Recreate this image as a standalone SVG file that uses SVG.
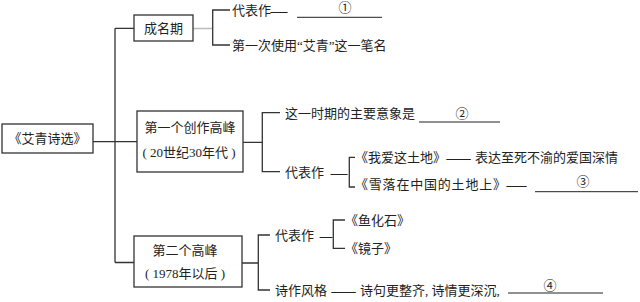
<svg xmlns="http://www.w3.org/2000/svg" width="640" height="302" viewBox="0 0 640 302">
<style>
text{font-family:"Liberation Serif","Noto Sans CJK SC",serif;font-size:13px;fill:#222;dominant-baseline:central}
.c{text-anchor:middle}
.n{font-size:13px;text-anchor:middle}
.d{stroke:#222;stroke-width:0.6}
.box{fill:#fff;stroke:#333;stroke-width:1.3}
.ln{stroke:#333;stroke-width:1.3;fill:none}
.lg{stroke:#bbb;stroke-width:1.5;fill:none}
.ul{stroke:#222;stroke-width:1;fill:none}
</style>
<rect width="640" height="302" fill="#fff"/>
<g id="connectors">
<path class="ln" d="M93 141.7H137M115 28.3V262.5M115 28.3H134M115 262.5H134"/>
<path class="lg" d="M193 28.5H212.7"/>
<path class="ln" d="M230 10H212.7V45H230"/>
<path class="ln" d="M243 142.3H262.3M280 112.7H262.3V171.7H280"/>
<path class="ln" d="M355 157.3H349.3V187H355"/>
<path class="ln" d="M242 263H258.3M270 235H258.3V290H270"/>
<path class="ln" d="M345 220H333.3V248.3H345"/>
</g>
<g id="root"><rect class="box" x="2" y="124" width="91" height="29"/><text class="c" x="47.5" y="138.5">《艾青诗选》</text></g>
<g id="early"><rect class="box" x="134" y="15" width="59" height="26"/><text class="c" x="163.5" y="28">成名期</text></g>
<g id="peak1"><rect class="box" x="137" y="111" width="106" height="61"/><text class="c" x="190" y="127">第一个创作高峰</text><text class="c" x="189" y="152">( 20世纪30年代 )</text></g>
<g id="peak2"><rect class="box" x="134" y="236" width="108" height="51"/><text class="c" x="185" y="250">第二个高峰</text><text class="c" x="185" y="273.5">( 1978年以后 )</text></g>
<g id="early-items">
<text x="232" y="10">代表作</text><text class="d" x="271" y="10" textLength="16" lengthAdjust="spacingAndGlyphs">—</text>
<path class="ul" d="M297 17.3H382"/><text class="n" x="345" y="7">①</text>
<text x="232" y="45">第一次使用“艾青”这一笔名</text>
</g>
<g id="peak1-items">
<text x="285" y="113">这一时期的主要意象是</text>
<path class="ul" d="M419 122H500"/><text class="n" x="462" y="113">②</text>
<text x="285" y="172">代表作</text><text class="d" x="331" y="172" textLength="16" lengthAdjust="spacingAndGlyphs">—</text>
<text x="355" y="157">《我爱这土地》</text><text class="d" x="447" y="157" textLength="23" lengthAdjust="spacingAndGlyphs">—</text><text x="475" y="157">表达至死不渝的爱国深情</text>
<text x="355" y="184.5" letter-spacing="0.8">《雪落在中国的土地上》</text><text class="d" x="507" y="184.5" textLength="19" lengthAdjust="spacingAndGlyphs">—</text>
<path class="ul" d="M535 191.7H638"/><text class="n" x="583" y="181.5">③</text>
</g>
<g id="peak2-items">
<text x="275" y="235">代表作</text><text class="d" x="320" y="235" textLength="12" lengthAdjust="spacingAndGlyphs">—</text>
<text x="345" y="220">《鱼化石》</text>
<text x="345" y="248">《镜子》</text>
<text x="275" y="290">诗作风格</text><text class="d" x="332" y="290" textLength="23" lengthAdjust="spacingAndGlyphs">—</text>
<text x="360" y="290">诗句更整齐, 诗情更深沉,</text>
<path class="ul" d="M508 293H603"/><text class="n" x="550" y="285">④</text>
</g>
</svg>
